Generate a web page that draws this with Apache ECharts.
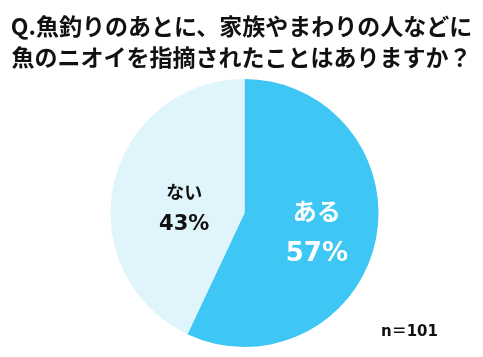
<!DOCTYPE html>
<html><head><meta charset="utf-8">
<script src="https://cdn.jsdelivr.net/npm/echarts@6/dist/echarts.min.js"></script>
<style>html,body{margin:0;padding:0;background:#fff}#c{width:483px;height:357px}</style>
</head><body><div id="c"></div>
<script>
const titleLines = ['Q.魚釣りのあとに、家族やまわりの人などに', '魚のニオイを指摘されたことはありますか？'];
const categories = ['ある', 'ない'];
const values = [57, 43];
const colors = ['#3EC6F4', '#E0F4FB'];
const sampleNote = 'n＝101';

const chart = echarts.init(document.getElementById('c'));
const font = '"Noto Sans CJK JP", sans-serif';
const numFont = '"DejaVu Sans", "Noto Sans CJK JP", sans-serif';
chart.setOption({
  animation: false,
  title: [{
    text: titleLines.join('\n'), left: 'center', top: 6,
    textStyle: { fontFamily: font, fontWeight: 'bold', fontSize: 23, lineHeight: 31, color: '#111' }
  }, {
    text: sampleNote, left: 376, top: 320,
    textStyle: { fontFamily: numFont, fontWeight: 'bold', fontSize: 15, color: '#111' }
  }],
  series: [{
    type: 'pie', center: [244.5, 213], radius: [0, 134],
    startAngle: 90, clockwise: true,
    label: { show: true, position: 'inside', fontFamily: font },
    labelLine: { show: false },
    emphasis: { disabled: true },
    data: categories.map((c, i) => ({
      name: c, value: values[i],
      itemStyle: { color: colors[i] },
      label: i === 0 ? {
        formatter: '{a|{b}}\n{b|{c}%}',
        padding: [9, 0, 0, 8],
        rich: {
          a: { fontFamily: font, fontWeight: 'bold', fontSize: 24, color: '#fff', lineHeight: 43 },
          b: { fontFamily: numFont, fontWeight: 'bold', fontSize: 26, color: '#fff', lineHeight: 43 }
        }
      } : {
        formatter: '{a|{b}}\n{b|{c}%}',
        padding: [21, 0, 0, 16],
        rich: {
          a: { fontFamily: font, fontWeight: 'bold', fontSize: 18, color: '#111', lineHeight: 33 },
          b: { fontFamily: numFont, fontWeight: 'bold', fontSize: 21, color: '#111', lineHeight: 33 }
        }
      }
    }))
  }]
});
</script></body></html>
